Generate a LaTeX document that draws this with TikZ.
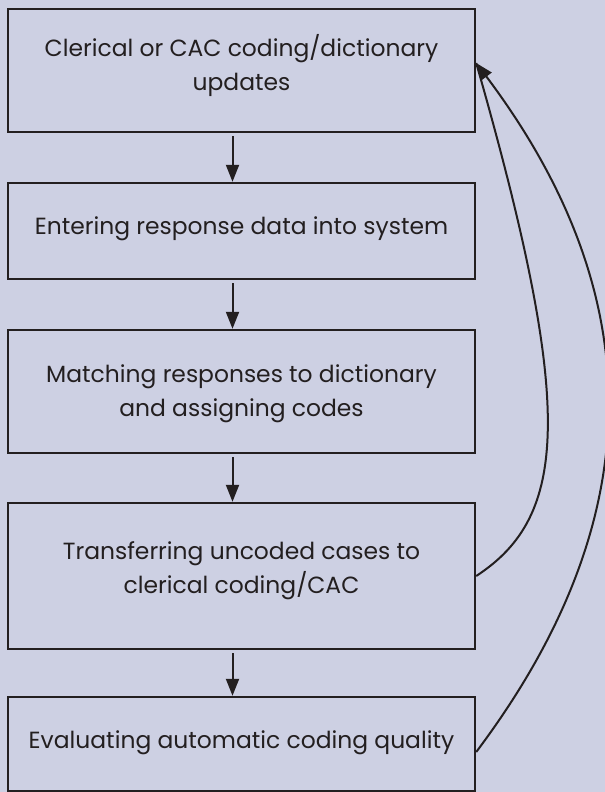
\documentclass[tikz,border=0pt]{standalone}
\usepackage{fontspec}
\setmainfont{Poppins}
\usetikzlibrary{calc,arrows.meta}
\definecolor{bgcol}{HTML}{CDD0E3}
\definecolor{inkcol}{HTML}{231F20}

\begin{document}
\begin{tikzpicture}[x=1bp, y=-1bp,
		box/.style={draw=inkcol, line width=2.4bp, minimum width=467bp, inner sep=0pt},
		txt/.style={text=inkcol, align=center, font=\fontsize{23.5}{34}\selectfont},
		flow/.style={draw=inkcol, line width=2bp, -{Triangle[length=17bp, width=13bp]}, shorten <=3bp},
		back/.style={draw=inkcol, line width=2bp}]
			%%%%% START %%%%%
			
			\useasboundingbox (0, 0) rectangle (605, 792);
			\fill[bgcol] (0, 0) rectangle (605, 792);
			
			\node[box, minimum height=123bp] (update) at (241.5, 70.5) {};
			\node[txt] (update-t) at (241.5, 65.5) {Clerical or CAC coding/dictionary\\updates};
			
			\node[box, minimum height=96bp] (entry) at (241.5, 231) {};
			\node[txt] (entry-t) at (241.5, 228.5) {Entering response data into system};
			
			\node[box, minimum height=123bp] (match) at (241.5, 391.5) {};
			\node[txt] (match-t) at (241.5, 394) {Matching responses to dictionary\\and assigning codes};
			
			\node[box, minimum height=146bp] (transfer) at (241.5, 576) {};
			\node[txt] (transfer-t) at (241.5, 571) {Transferring uncoded cases to\\clerical coding/CAC};
			
			\node[box, minimum height=94bp] (evaluate) at (241.5, 744) {};
			\node[txt] (evaluate-t) at (241.5, 742.5) {Evaluating automatic coding quality};
			
			% down the column
			\draw[flow] ([xshift=-9bp]update.south) -- ([xshift=-9bp]entry.north);
			\draw[flow] ([xshift=-9bp]entry.south) -- ([xshift=-9bp]match.north);
			\draw[flow] ([xshift=-9bp]match.south) -- ([xshift=-9bp]transfer.north);
			\draw[flow] ([xshift=-9bp]transfer.south) -- ([xshift=-9bp]evaluate.north);
			
			% feedback to the top box
			\coordinate (tip) at ([yshift=7.5bp]update.east);
			\coordinate (evalout) at ([yshift=-8bp]evaluate.east);
			\draw[back] (transfer.east) .. controls ($(transfer.east)+(92, -60)$) and ($(tip)+(99, 346)$) .. (tip);
			\draw[back, -{Triangle[length=17bp, width=13bp]}] (evalout) .. controls ($(evalout)+(175, -233)$) and ($(tip)+(175, 233)$) .. (tip);
			
			%%%%% END %%%%%
\end{tikzpicture}
\end{document}
